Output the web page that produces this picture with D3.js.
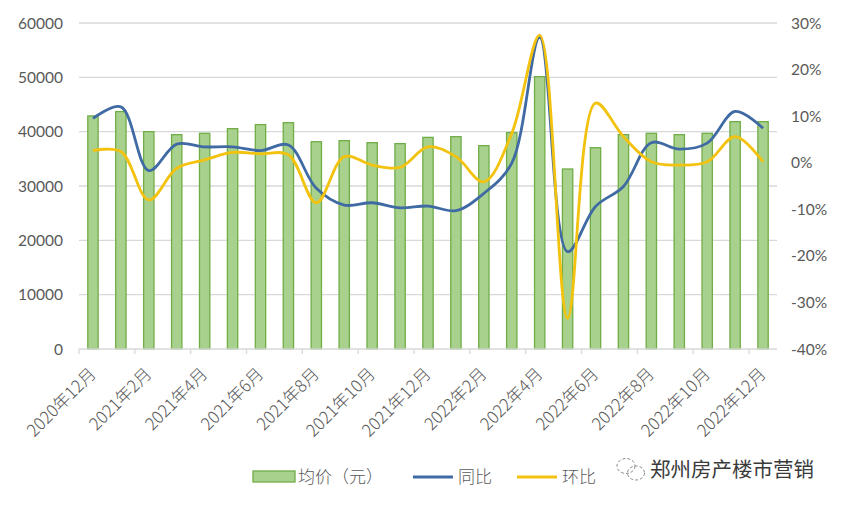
<!DOCTYPE html>
<html><head><meta charset="utf-8">
<script src="https://cdn.jsdelivr.net/npm/d3@7"></script>
<style>
body{margin:0;background:#fff;}
svg{display:block;font-family:"Lato","Noto Sans CJK SC",sans-serif;}
</style></head>
<body><svg id="c" width="844" height="506"></svg>
<script>
const months = ["2020年12月","2021年1月","2021年2月","2021年3月","2021年4月","2021年5月","2021年6月","2021年7月","2021年8月","2021年9月","2021年10月","2021年11月","2021年12月","2022年1月","2022年2月","2022年3月","2022年4月","2022年5月","2022年6月","2022年7月","2022年8月","2022年9月","2022年10月","2022年11月","2022年12月"];
const avgPrice = [42900,43700,40000,39450,39700,40550,41300,41650,38150,38350,37970,37800,38950,39080,37420,39820,50120,33130,37050,39450,39700,39450,39700,41840,41840];
const yoy = [9.5,12.0,-1.7,4.0,3.4,3.4,2.6,3.8,-5.5,-9.1,-8.6,-9.7,-9.3,-10.3,-6.6,-0.1,26.9,-19.1,-9.4,-5.1,4.3,2.9,4.2,11.0,7.4];
const mom = [2.6,2.4,-8.0,-1.2,0.6,2.2,1.9,1.7,-8.6,1.3,-0.5,-1.0,3.4,1.3,-4.1,6.3,27.4,-33.4,12.8,5.6,0.2,-0.5,0.2,5.6,0.2];
const leftTicks = [0,10000,20000,30000,40000,50000,60000];
const rightTicks = [-40,-30,-20,-10,0,10,20,30];
const legendNames = ["均价（元）","同比","环比"];
const watermark = "郑州房产楼市营销";

const svg = d3.select("#c");
const L = 79, R = 777, T = 23, B = 349;
const x = d3.scalePoint().domain(months).range([L, R]).padding(0.5);
const step = x.step();
const yL = d3.scaleLinear().domain([0,60000]).range([B,T]);
const yR = d3.scaleLinear().domain([-40,30]).range([B,T]);
const txt = "#595959";

// grid
svg.append("g").selectAll("line").data(leftTicks.slice(1)).join("line")
  .attr("x1",L).attr("x2",R).attr("y1",d=>yL(d)).attr("y2",d=>yL(d))
  .attr("stroke","#d9d9d9").attr("stroke-width",1.3);

// left axis labels
svg.append("g").selectAll("text").data(leftTicks).join("text")
  .attr("x",63).attr("y",d=>yL(d)).attr("dy","0.36em").attr("text-anchor","end")
  .attr("font-size",15.5).attr("fill",txt).text(d=>d);
// right axis labels
svg.append("g").selectAll("text").data(rightTicks).join("text")
  .attr("x",791).attr("y",d=>yR(d)).attr("dy","0.36em").attr("text-anchor","start")
  .attr("font-size",15.5).attr("fill",txt).text(d=>d+"%");

// bars
const bw = step*0.37;
svg.append("g").selectAll("rect").data(avgPrice).join("rect")
  .attr("x",(d,i)=>x(months[i])-bw/2).attr("width",bw)
  .attr("y",d=>yL(d)).attr("height",d=>B-yL(d))
  .attr("fill","#a9d18e").attr("stroke","#70ad47").attr("stroke-width",1.3);

// axis line + ticks
svg.append("line").attr("x1",L).attr("x2",R).attr("y1",B).attr("y2",B)
  .attr("stroke","#d9d9d9").attr("stroke-width",1.5);
const tickIdx = months.map((m,i)=>i).filter(i=>i%2===0);
svg.append("g").selectAll("line").data(tickIdx).join("line")
  .attr("x1",i=>x(months[i])-step/2).attr("x2",i=>x(months[i])-step/2)
  .attr("y1",B).attr("y2",B+5).attr("stroke","#d9d9d9").attr("stroke-width",1.3);

// x labels
svg.append("g").selectAll("text").data(tickIdx).join("text")
  .attr("transform",i=>`translate(${x(months[i])+4},${B+26}) rotate(-45)`)
  .attr("text-anchor","end")
  .attr("font-family","'Noto Sans CJK SC',sans-serif").attr("font-weight",300)
  .attr("font-size",17).attr("fill",txt).text(i=>months[i]);

// lines
const line = (arr)=>d3.line().x((d,i)=>x(months[i])).y(d=>yR(d)).curve(d3.curveCatmullRom.alpha(0.5))(arr);
svg.append("path").attr("d",line(yoy)).attr("fill","none").attr("stroke","#3f6aa3").attr("stroke-width",2.8);
svg.append("path").attr("d",line(mom)).attr("fill","none").attr("stroke","#f2c20f").attr("stroke-width",2.8);

// legend
const ly = 477;
const lg = svg.append("g").attr("font-family","'Noto Sans CJK SC',sans-serif").attr("font-weight",300).attr("font-size",17).attr("fill",txt);
lg.append("rect").attr("x",253).attr("y",ly-6).attr("width",42).attr("height",11)
  .attr("fill","#a9d18e").attr("stroke","#70ad47").attr("stroke-width",1.3);
lg.append("text").attr("x",298).attr("y",ly).attr("dy","0.36em").text(legendNames[0]);
lg.append("line").attr("x1",413).attr("x2",453).attr("y1",ly).attr("y2",ly).attr("stroke","#3f6aa3").attr("stroke-width",2.8);
lg.append("text").attr("x",458).attr("y",ly).attr("dy","0.36em").text(legendNames[1]);
lg.append("line").attr("x1",517).attr("x2",557).attr("y1",ly).attr("y2",ly).attr("stroke","#f2c20f").attr("stroke-width",2.8);
lg.append("text").attr("x",562).attr("y",ly).attr("dy","0.36em").text(legendNames[2]);

// watermark icon
const ic = svg.append("g").attr("fill","none").attr("stroke","#8a8a8a").attr("stroke-width",1);
ic.append("ellipse").attr("cx",626).attr("cy",466).attr("rx",9).attr("ry",7.5).attr("stroke-dasharray","3,2");
ic.append("ellipse").attr("cx",636).attr("cy",473).attr("rx",8.5).attr("ry",7).attr("stroke-dasharray","3,2");
svg.append("text").attr("x",650).attr("y",470).attr("dy","0.36em")
  .attr("font-family","'Noto Sans CJK SC',sans-serif").attr("font-size",20.5)
  .attr("fill","#3a3a3a").text(watermark);
</script></body></html>
